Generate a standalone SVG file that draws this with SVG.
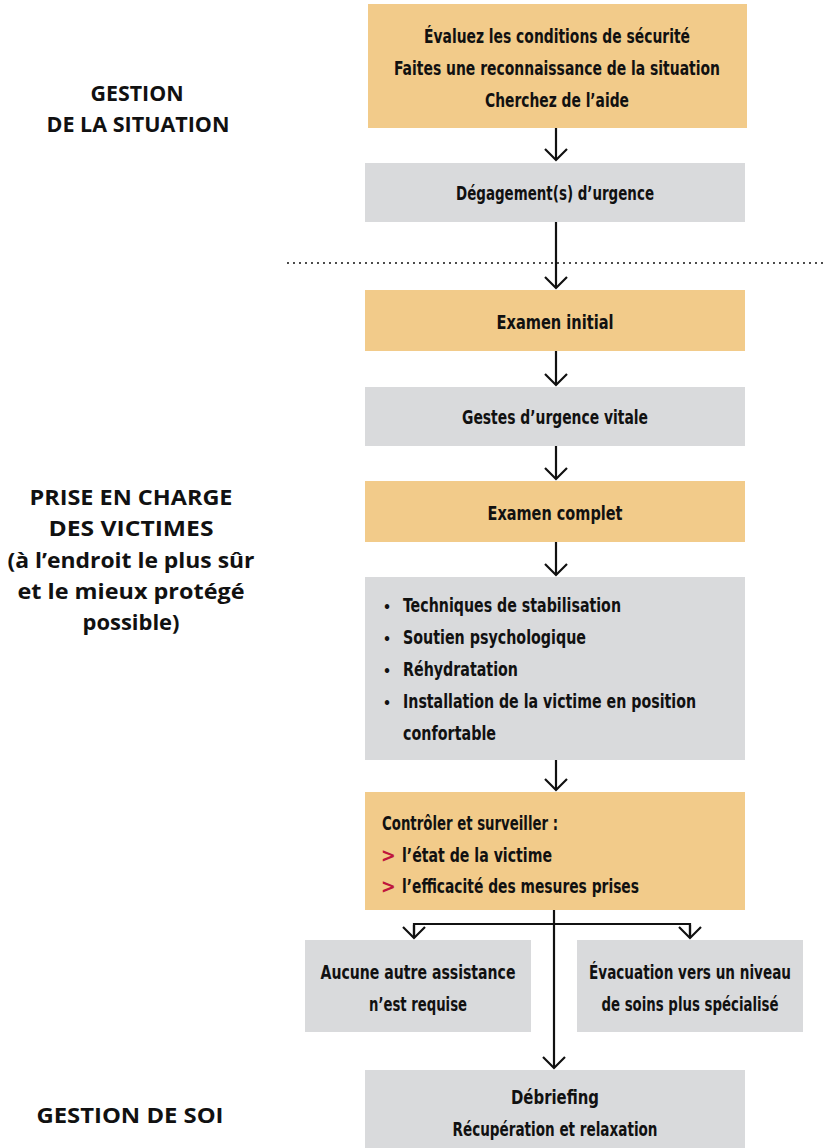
<svg xmlns="http://www.w3.org/2000/svg" width="823" height="1148" viewBox="0 0 823 1148">
<style>
.o{fill:#f2cb8a}
.g{fill:#d9dadc}
.t{font-family:"DejaVu Sans Condensed","Liberation Sans Narrow",sans-serif;font-weight:bold;font-size:19.5px;fill:#111;text-anchor:middle}
.l{text-anchor:start}
.b{font-size:14px}
.s{font-family:"Open Sans","DejaVu Sans",sans-serif;font-weight:bold;font-size:22px;fill:#111;text-anchor:middle}
.r{fill:#c0163c}
.c{stroke:#111;stroke-width:2.2;fill:none}
</style>
<defs>
<marker id="ah" viewBox="0 0 14 24" refX="12" refY="12" markerWidth="14" markerHeight="24" markerUnits="userSpaceOnUse" orient="auto">
<path d="M1,1 L12,12 L1,23" fill="none" stroke="#111" stroke-width="2.2"/>
</marker>
</defs>
<g id="labels">
<text class="s" x="137" y="101" textLength="93" lengthAdjust="spacingAndGlyphs">GESTION</text>
<text class="s" x="138" y="132" textLength="183" lengthAdjust="spacingAndGlyphs">DE LA SITUATION</text>
<text class="s" x="131" y="505" textLength="203" lengthAdjust="spacingAndGlyphs">PRISE EN CHARGE</text>
<text class="s" x="131" y="536" textLength="165" lengthAdjust="spacingAndGlyphs">DES VICTIMES</text>
<text class="s" x="131" y="568" textLength="247" lengthAdjust="spacingAndGlyphs">(à l’endroit le plus sûr</text>
<text class="s" x="131" y="599" textLength="227" lengthAdjust="spacingAndGlyphs">et le mieux protégé</text>
<text class="s" x="131" y="630" textLength="97" lengthAdjust="spacingAndGlyphs">possible)</text>
<text class="s" x="130" y="1123" textLength="187" lengthAdjust="spacingAndGlyphs">GESTION DE SOI</text>
</g>
<line x1="288" y1="263" x2="823" y2="263" stroke="#111" stroke-width="2" stroke-dasharray="0 6" stroke-linecap="round"/>
<g id="connectors">
<line class="c" x1="556" y1="128" x2="556" y2="160" marker-end="url(#ah)"/>
<line class="c" x1="556" y1="222" x2="556" y2="288" marker-end="url(#ah)"/>
<line class="c" x1="556" y1="351" x2="556" y2="385" marker-end="url(#ah)"/>
<line class="c" x1="556" y1="446" x2="556" y2="479" marker-end="url(#ah)"/>
<line class="c" x1="556" y1="542" x2="556" y2="575" marker-end="url(#ah)"/>
<line class="c" x1="556" y1="760" x2="556" y2="790" marker-end="url(#ah)"/>
<line class="c" x1="554" y1="910" x2="554" y2="1068" marker-end="url(#ah)"/>
<polyline class="c" points="414,938 414,924 690,924 690,938"/>
<line class="c" x1="414" y1="925" x2="414" y2="938" marker-end="url(#ah)"/>
<line class="c" x1="690" y1="925" x2="690" y2="938" marker-end="url(#ah)"/>
</g>
<g id="n1"><rect class="o" x="368" y="4" width="379" height="124"/>
<text class="t" x="557" y="43" textLength="266" lengthAdjust="spacingAndGlyphs">Évaluez les conditions de sécurité</text>
<text class="t" x="557" y="75" textLength="326" lengthAdjust="spacingAndGlyphs">Faites une reconnaissance de la situation</text>
<text class="t" x="557" y="107" textLength="144" lengthAdjust="spacingAndGlyphs">Cherchez de l’aide</text></g>
<g id="n2"><rect class="g" x="365" y="163" width="380" height="59"/>
<text class="t" x="555" y="200" textLength="198" lengthAdjust="spacingAndGlyphs">Dégagement(s) d’urgence</text></g>
<g id="n3"><rect class="o" x="365" y="290" width="380" height="61"/>
<text class="t" x="555" y="329" textLength="117" lengthAdjust="spacingAndGlyphs">Examen initial</text></g>
<g id="n4"><rect class="g" x="365" y="387" width="380" height="59"/>
<text class="t" x="555" y="424" textLength="186" lengthAdjust="spacingAndGlyphs">Gestes d’urgence vitale</text></g>
<g id="n5"><rect class="o" x="365" y="481" width="380" height="61"/>
<text class="t" x="555" y="520" textLength="135" lengthAdjust="spacingAndGlyphs">Examen complet</text></g>
<g id="n6"><rect class="g" x="365" y="577" width="380" height="183"/>
<text class="t l b" x="383" y="612">•</text><text class="t l" x="403" y="612" textLength="218" lengthAdjust="spacingAndGlyphs">Techniques de stabilisation</text>
<text class="t l b" x="383" y="644">•</text><text class="t l" x="403" y="644" textLength="183" lengthAdjust="spacingAndGlyphs">Soutien psychologique</text>
<text class="t l b" x="383" y="676">•</text><text class="t l" x="403" y="676" textLength="115" lengthAdjust="spacingAndGlyphs">Réhydratation</text>
<text class="t l b" x="383" y="708">•</text><text class="t l" x="403" y="708" textLength="293" lengthAdjust="spacingAndGlyphs">Installation de la victime en position</text>
<text class="t l" x="403" y="740" textLength="93" lengthAdjust="spacingAndGlyphs">confortable</text>
</g>
<g id="n7"><rect class="o" x="365" y="792" width="380" height="118"/>
<text class="t l" x="382" y="830" textLength="176" lengthAdjust="spacingAndGlyphs">Contrôler et surveiller :</text>
<text class="t l r" x="381" y="862">&gt;</text><text class="t l" x="402" y="862" textLength="150" lengthAdjust="spacingAndGlyphs">l’état de la victime</text>
<text class="t l r" x="381" y="893">&gt;</text><text class="t l" x="402" y="893" textLength="237" lengthAdjust="spacingAndGlyphs">l’efficacité des mesures prises</text></g>
<g id="n8"><rect class="g" x="305" y="940" width="226" height="92"/>
<text class="t" x="418" y="979" textLength="195" lengthAdjust="spacingAndGlyphs">Aucune autre assistance</text>
<text class="t" x="418" y="1011" textLength="98" lengthAdjust="spacingAndGlyphs">n’est requise</text></g>
<g id="n9"><rect class="g" x="577" y="940" width="226" height="92"/>
<text class="t" x="690" y="979" textLength="202" lengthAdjust="spacingAndGlyphs">Évacuation vers un niveau</text>
<text class="t" x="690" y="1011" textLength="177" lengthAdjust="spacingAndGlyphs">de soins plus spécialisé</text></g>
<g id="n10"><rect class="g" x="365" y="1070" width="380" height="78"/>
<text class="t" x="555" y="1104" textLength="88" lengthAdjust="spacingAndGlyphs">Débriefing</text>
<text class="t" x="555" y="1136" textLength="205" lengthAdjust="spacingAndGlyphs">Récupération et relaxation</text></g>
</svg>
